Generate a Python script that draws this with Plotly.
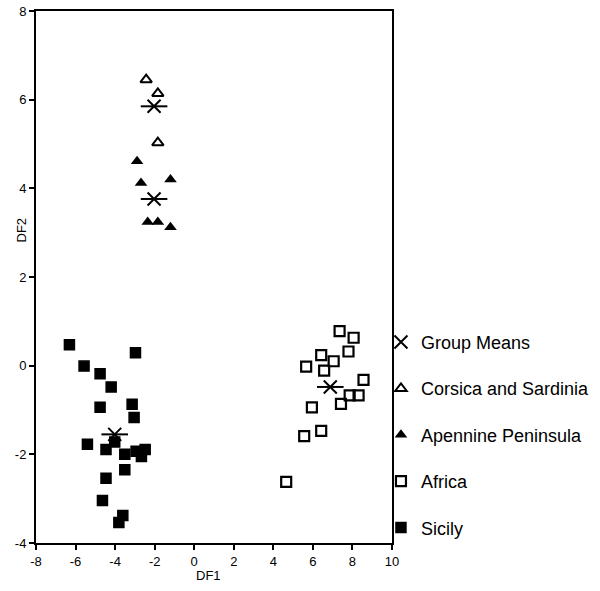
import plotly.graph_objects as go

# Group means
mean_x = [-2.03, -2.03, 6.88, -4.02]
mean_y = [5.85, 3.76, -0.48, -1.55]

# Corsica and Sardinia
cs_x = [-2.43, -1.84, -1.84]
cs_y = [6.45, 6.14, 5.03]

# Apennine Peninsula
ap_x = [-2.89, -2.69, -1.20, -2.35, -1.84, -1.20]
ap_y = [4.61, 4.12, 4.20, 3.24, 3.24, 3.12]

# Africa
af_x = [7.35, 8.06, 6.42, 7.05, 7.80, 5.66, 6.57, 8.56, 7.86, 8.31, 7.42, 5.95, 6.42, 5.56, 4.65]
af_y = [0.78, 0.63, 0.24, 0.10, 0.32, -0.02, -0.11, -0.32, -0.67, -0.67, -0.86, -0.94, -1.47, -1.59, -2.62]

# Sicily
si_x = [-6.31, -2.97, -5.57, -4.76, -4.20, -4.76, -3.14, -3.04, -5.40, -4.02, -4.46,
        -3.51, -2.94, -2.48, -2.67, -3.51, -4.46, -4.64, -3.61, -3.81]
si_y = [0.47, 0.29, -0.01, -0.18, -0.48, -0.94, -0.87, -1.17, -1.77, -1.72, -1.89,
        -2.00, -1.93, -1.89, -2.05, -2.35, -2.54, -3.04, -3.38, -3.54]

x_ticks = [-8, -6, -4, -2, 0, 2, 4, 6, 8, 10]
y_ticks = [-4, -2, 0, 2, 4, 6, 8]

FONT = "Liberation Sans, Arial, sans-serif"

fig = go.Figure()

fig.add_trace(go.Scatter(
    x=si_x, y=si_y, mode="markers", name="Sicily", legendgroup="g5", legendrank=5,
    marker=dict(symbol="square", size=10, color="black", line=dict(color="black", width=1.5)),
))
fig.add_trace(go.Scatter(
    x=af_x, y=af_y, mode="markers", name="Africa", legendgroup="g4", legendrank=4,
    marker=dict(symbol="square-open", size=10, color="black", line=dict(color="black", width=2.2)),
))
fig.add_trace(go.Scatter(
    x=ap_x, y=ap_y, mode="markers", name="Apennine Peninsula", legendgroup="g3", legendrank=3,
    marker=dict(symbol="triangle-up", size=11, color="black", line=dict(color="black", width=0)),
))
fig.add_trace(go.Scatter(
    x=cs_x, y=cs_y, mode="markers", name="Corsica and Sardinia", legendgroup="g2", legendrank=2,
    marker=dict(symbol="triangle-up-open", size=10, color="black", line=dict(color="black", width=2)),
))
fig.add_trace(go.Scatter(
    x=mean_x, y=mean_y, mode="markers", name="Group Means", legendgroup="g1", legendrank=1,
    marker=dict(symbol="line-ew-open", size=19, color="black", line=dict(color="black", width=2)),
    showlegend=False,
))
fig.add_trace(go.Scatter(
    x=mean_x, y=mean_y, mode="markers", name="Group Means", legendgroup="g1", legendrank=1,
    marker=dict(symbol="x-thin-open", size=13, color="black", line=dict(color="black", width=2)),
))

axis_common = dict(
    showgrid=False, zeroline=False, showline=True, linecolor="black", linewidth=2,
    mirror=True, ticks="outside", ticklen=5, tickwidth=2, tickcolor="black",
    tickfont=dict(family=FONT, size=13, color="black"), automargin=False,
)

fig.update_layout(
    width=616, height=591, autosize=False,
    margin=dict(l=36, r=224, t=11, b=48),
    paper_bgcolor="white", plot_bgcolor="white",
    font=dict(family=FONT, color="black"),
    xaxis=dict(range=[-8, 10], tickvals=x_ticks, ticktext=[str(v) for v in x_ticks], **axis_common),
    yaxis=dict(range=[-4, 8], tickvals=y_ticks, ticktext=[str(v) for v in y_ticks], **axis_common),
    legend=dict(x=0.969, xanchor="left", y=0.412, yanchor="top",
                font=dict(family=FONT, size=18, color="black"),
                tracegroupgap=20, bgcolor="rgba(0,0,0,0)", borderwidth=0,
                traceorder="grouped"),
    showlegend=True,
    annotations=[
        dict(text="DF1", xref="x", yref="paper", x=0.7, y=-0.061, showarrow=False,
             xanchor="center", yanchor="middle", font=dict(family=FONT, size=13, color="black")),
        dict(text="DF2", xref="paper", yref="y", x=-0.042, y=3.05, showarrow=False,
             textangle=-90, xanchor="center", yanchor="middle",
             font=dict(family=FONT, size=13, color="black")),
    ],
)

fig.write_html("out.html",
               config=dict(displayModeBar=False, responsive=False),
               post_script=("document.body.style.margin='0';document.body.style.padding='0';"
                            "document.body.style.overflow='hidden';"
                            "document.documentElement.style.overflow='hidden';"))
